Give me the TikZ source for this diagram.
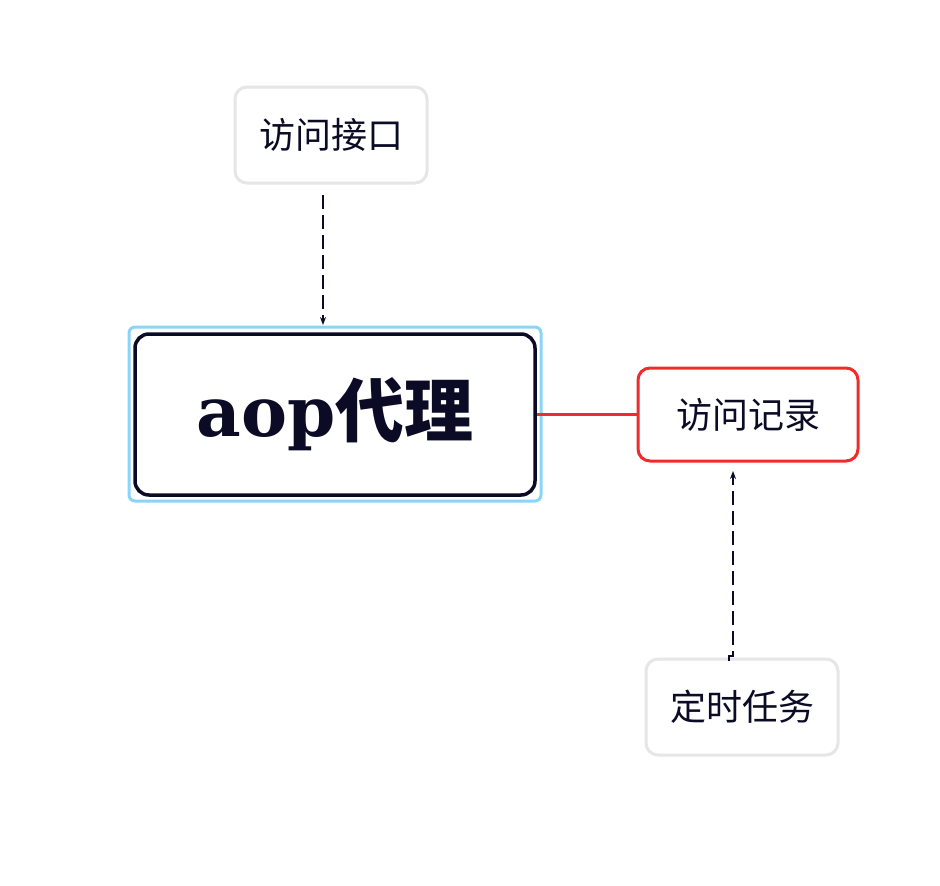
\documentclass[tikz,border=0pt]{standalone}
\usepackage{fontspec}
\setmainfont{DejaVu Serif}
\newfontfamily\cjk{Noto Sans CJK SC}
\usetikzlibrary{arrows.meta}
\definecolor{ink}{HTML}{0B0B26}
\definecolor{boxgray}{HTML}{E6E6E8}
\definecolor{selblue}{HTML}{8AD4F8}
\definecolor{linkred}{HTML}{EE2C2C}
\tikzset{
  leaf/.style={draw=boxgray, line width=3pt, rounded corners=12pt, fill=white,
    minimum width=192pt, minimum height=96pt, text=ink, font=\cjk\fontsize{36}{42}\selectfont},
  dashlink/.style={ink, line width=2pt, dash pattern=on 14pt off 6pt,
    -{Stealth[length=8pt,width=6pt]}}
}
\begin{document}
\begin{tikzpicture}[x=1pt,y=-1pt]
\useasboundingbox (0,0) rectangle (940,886);

% central topic
\node[draw=ink, line width=3.5pt, rounded corners=14pt, fill=white,
  minimum width=400pt, minimum height=161pt, text=ink,
  font=\fontsize{69}{76}\selectfont\bfseries] (aop) at (335,414.5) {aop{\cjk 代理}};
\draw[selblue, line width=3pt, rounded corners=6pt]
  (129,327) rectangle (541,501);

% other topics
\node[leaf] (api) at (331,135) {访问接口};
\node[leaf, draw=linkred, minimum width=220pt, minimum height=93pt] (record) at (748,414.5) {访问记录};
\node[leaf] (task) at (742,707) {定时任务};

% links
\draw[linkred, line width=3pt] (aop.east) -- (record.west);
\coordinate (apiout) at (323,195);
\coordinate (aopin) at (323,325);
\draw[dashlink] (apiout) -- (aopin);
\coordinate (taskout) at (729,661);
\coordinate (recin) at (733,471);
\draw[dashlink] (taskout) -- ++(0,-5) -| (recin);
\end{tikzpicture}
\end{document}
